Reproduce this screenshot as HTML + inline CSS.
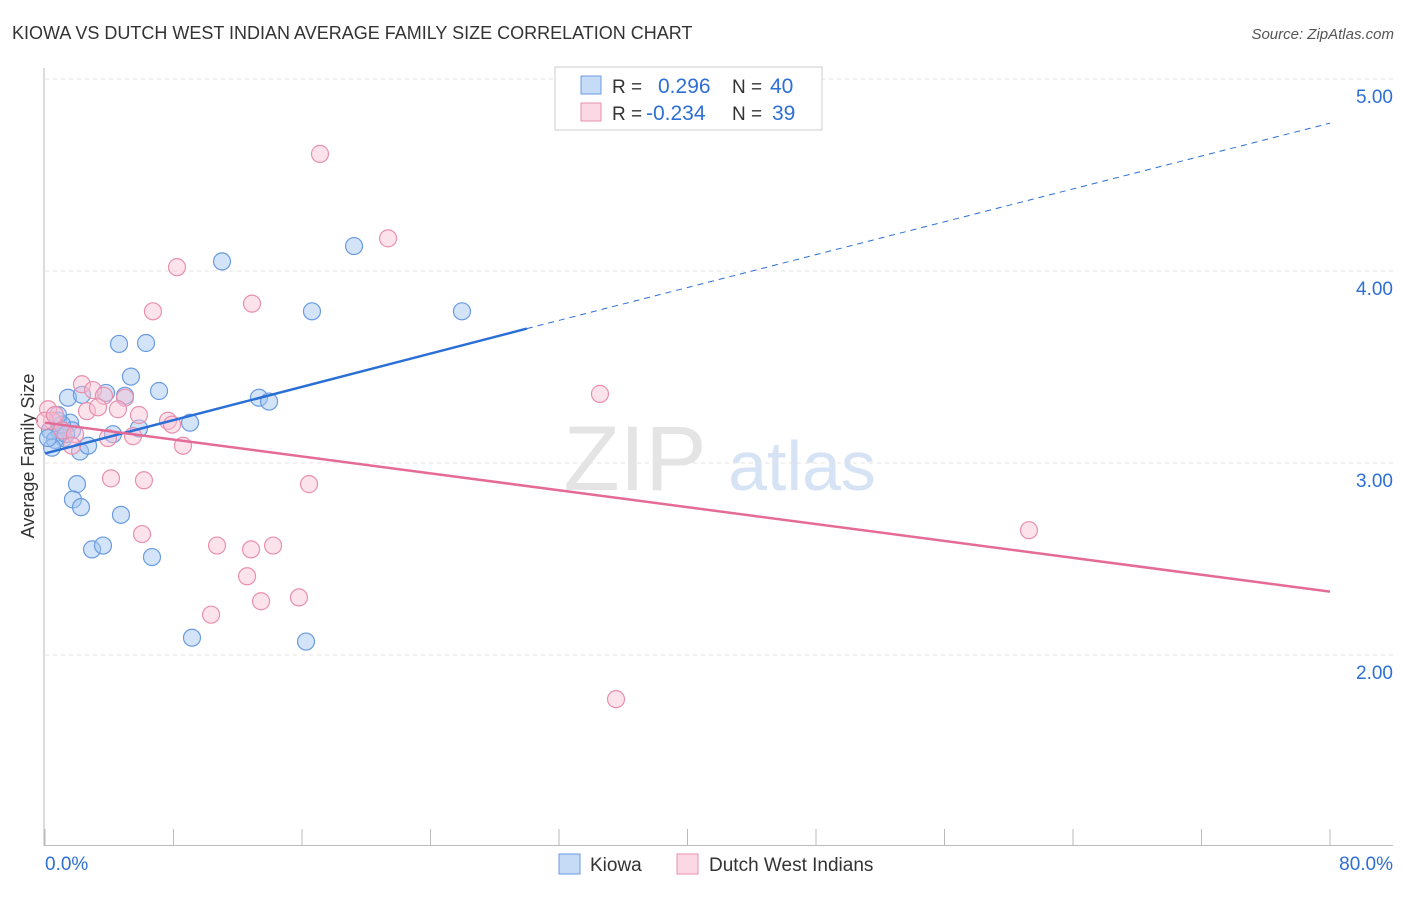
<!DOCTYPE html>
<html><head><meta charset="utf-8"><style>
body{margin:0;background:#fff;font-family:"Liberation Sans",sans-serif}
svg text{font-family:"Liberation Sans",sans-serif}
</style></head><body>
<svg id="c" width="1406" height="892">
<text x="12" y="39" font-size="18" fill="#333">KIOWA VS DUTCH WEST INDIAN AVERAGE FAMILY SIZE CORRELATION CHART</text>
<text x="1394" y="39" font-size="15" fill="#555" font-style="italic" text-anchor="end">Source: ZipAtlas.com</text>
<text x="635" y="490" font-size="92" fill="#e4e4e4" font-family="Liberation Serif" text-anchor="middle">ZIP</text>
<text x="802" y="490" font-size="70" fill="#d5e3f5" text-anchor="middle">atlas</text>
<text x="34" y="456" font-size="18" fill="#333" text-anchor="middle" transform="rotate(-90 34 456)">Average Family Size</text>
<g id="grid"></g><g id="axes"></g><g id="pts"></g><g id="lines"></g>
<g>
<rect x="555" y="67" width="267" height="63" fill="#fff" stroke="#ccc"/>
<rect x="581" y="76" width="20" height="18" fill="rgba(160,195,240,.6)" stroke="#6a9be0"/>
<rect x="581" y="103" width="20" height="18" fill="rgba(248,190,210,.6)" stroke="#e890ae"/>
<text x="612" y="93" font-size="19" fill="#333">R = </text><text x="658" y="93" font-size="21" fill="#2e6fd6">0.296</text>
<text x="732" y="93" font-size="19" fill="#333">N = </text><text x="770" y="93" font-size="21" fill="#2e6fd6">40</text>
<text x="612" y="120" font-size="19" fill="#333">R = </text><text x="646" y="120" font-size="21" fill="#2e6fd6">-0.234</text>
<text x="732" y="120" font-size="19" fill="#333">N = </text><text x="772" y="120" font-size="21" fill="#2e6fd6">39</text>
</g>
<g>
<rect x="559" y="854" width="21" height="20" fill="rgba(160,195,240,.6)" stroke="#6a9be0"/>
<text x="590" y="871" font-size="19" fill="#333">Kiowa</text>
<rect x="677" y="854" width="21" height="20" fill="rgba(248,190,210,.6)" stroke="#e890ae"/>
<text x="709" y="871" font-size="19" fill="#333">Dutch West Indians</text>
</g>
</svg>
<script>
const blueX=[4.61,6.29,5.35,7.10,1.43,2.30,3.80,4.98,0.81,1.56,0.31,0.93,1.18,1.68,0.62,0.44,2.18,2.68,4.23,5.85,9.03,13.32,13.95,11.02,16.62,19.24,25.96,1.99,1.74,2.24,4.73,2.93,3.61,6.66,9.15,16.25,0.19,1.06,1.31,0.81];
const blueY=[3.62,3.625,3.45,3.375,3.34,3.355,3.365,3.35,3.22,3.21,3.17,3.16,3.13,3.17,3.12,3.08,3.06,3.09,3.15,3.18,3.21,3.34,3.32,4.05,3.79,4.13,3.79,2.89,2.81,2.77,2.73,2.55,2.57,2.51,2.09,2.07,3.13,3.20,3.15,3.25];
const pinkX=[17.12,21.36,8.22,6.72,12.89,34.55,2.30,2.99,3.67,4.98,2.61,3.30,4.54,5.85,7.66,7.91,8.59,0.19,0.44,1.06,1.87,3.92,5.48,1.68,4.11,6.16,16.44,6.04,10.71,12.83,14.20,12.58,13.45,15.81,10.34,35.55,61.26,0,0.62];
const pinkY=[4.61,4.17,4.02,3.79,3.83,3.36,3.41,3.38,3.35,3.34,3.27,3.29,3.28,3.25,3.22,3.20,3.09,3.28,3.22,3.17,3.15,3.13,3.14,3.09,2.92,2.91,2.89,2.63,2.57,2.55,2.57,2.41,2.28,2.30,2.21,1.77,2.65,3.22,3.25];
const blueTrend=[[0,3.05],[30,3.70],[80,4.77]];
const pinkTrend=[[0,3.21],[80,2.33]];
const yTicks=[5,4,3,2];
const yTickLabels=["5.00","4.00","3.00","2.00"];
const xTicks=[0,8,16,24,32,40,48,56,64,72,80];
const NS="http://www.w3.org/2000/svg";
const sx=v=>45+v/80*1285, sy=v=>463-(v-3)*192;
function mk(tag,attrs,parent){const e=document.createElementNS(NS,tag);for(const k in attrs)e.setAttribute(k,attrs[k]);document.getElementById(parent).appendChild(e);return e;}
yTicks.forEach((t,i)=>{
 const l=mk('line',{x1:45,x2:1393,y1:sy(t),y2:sy(t),stroke:'#e3e3e3','stroke-dasharray':'4,4'},'grid');
 
 
 const tx=mk('text',{x:1393,y:sy(t)+24,'font-size':19,fill:'#2e6fd6','text-anchor':'end'},'axes');
 tx.textContent=yTickLabels[i];
 
 
});
let a=mk('line',{x1:44,x2:44,y1:68,y2:846,stroke:'#bbb'},'axes');


a=mk('line',{x1:44,x2:1393,y1:845.5,y2:845.5,stroke:'#bbb'},'axes');


xTicks.forEach(t=>{const l=mk('line',{x1:sx(t),x2:sx(t),y1:829,y2:845,stroke:'#bbb'},'axes');
 
 });
let t0=mk('text',{x:45,y:870,'font-size':19,fill:'#2e6fd6'},'axes');t0.textContent=xTicks[0].toFixed(1)+'%';


let t1=mk('text',{x:1393,y:870,'font-size':19,fill:'#2e6fd6','text-anchor':'end'},'axes');t1.textContent=xTicks[xTicks.length-1].toFixed(1)+'%';


blueX.forEach((x,i)=>{const c=mk('circle',{cx:sx(x),cy:sy(blueY[i]),r:8.5,fill:'rgba(160,195,240,.45)',stroke:'#6a9be0','stroke-width':1.2},'pts');
 
 });
pinkX.forEach((x,i)=>{const c=mk('circle',{cx:sx(x),cy:sy(pinkY[i]),r:8.5,fill:'rgba(248,190,210,.45)',stroke:'#e890ae','stroke-width':1.2},'pts');
 
 });
let b=mk('line',{x1:sx(blueTrend[0][0]),y1:sy(blueTrend[0][1]),x2:sx(blueTrend[1][0]),y2:sy(blueTrend[1][1]),stroke:'#2a6fd6','stroke-width':2.5},'lines');


b=mk('line',{x1:sx(blueTrend[1][0]),y1:sy(blueTrend[1][1]),x2:sx(blueTrend[2][0]),y2:sy(blueTrend[2][1]),stroke:'#2a6fd6','stroke-width':1,'stroke-dasharray':'6,5'},'lines');


b=mk('line',{x1:sx(pinkTrend[0][0]),y1:sy(pinkTrend[0][1]),x2:sx(pinkTrend[1][0]),y2:sy(pinkTrend[1][1]),stroke:'#e56b97','stroke-width':2.5},'lines');


</script>
</body></html>
